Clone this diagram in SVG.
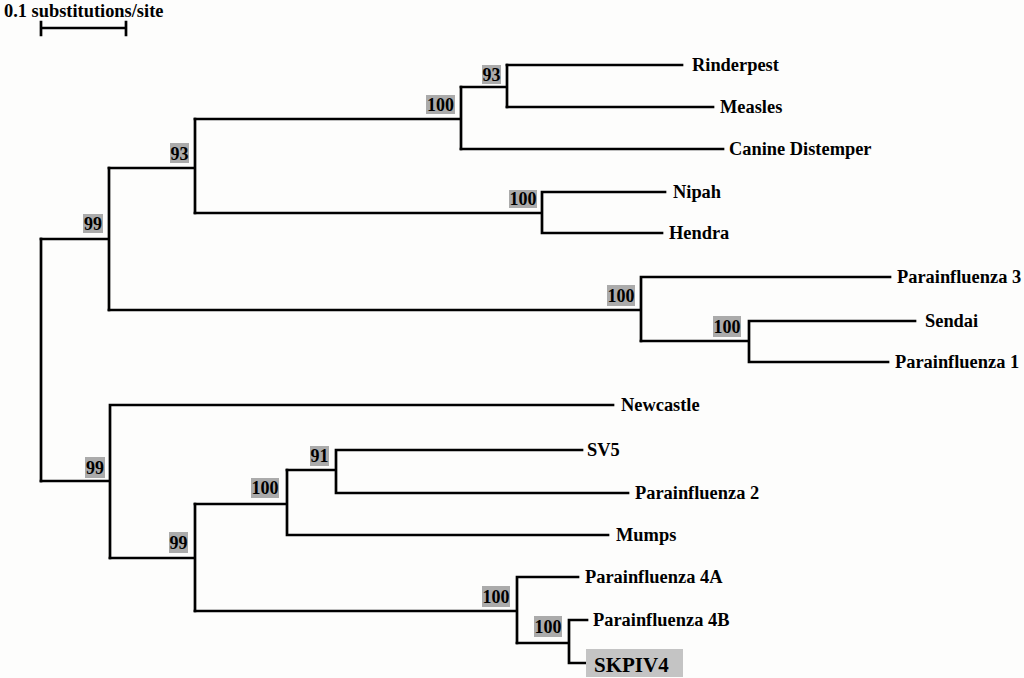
<svg xmlns="http://www.w3.org/2000/svg" width="1024" height="678" viewBox="0 0 1024 678">
<style>
.br{fill:none;stroke:#000;stroke-width:2.7;stroke-linecap:square;stroke-linejoin:miter}
.lb{font-family:"Liberation Serif","Times New Roman",serif;font-weight:bold;font-size:18.4px;fill:#000}
.bs rect{fill:#ababab}
.bs text{font-family:"Liberation Serif","Times New Roman",serif;font-weight:bold;font-size:18px;fill:#000;text-anchor:middle}
</style>
<rect x="0" y="0" width="1024" height="678" fill="#fdfdfc"/>
<g id="scale">
<text class="lb" x="4" y="17">0.1 substitutions/site</text>
<path class="br" d="M41,28 H126 M41,22 V35 M126,22 V35"/>
</g>
<g id="connectors">
<path class="br" d="M41,239 V481"/>
<path class="br" d="M41,239 H109 M109,168 V310"/>
<path class="br" d="M109,168 H195 M195,119 V213"/>
<path class="br" d="M195,119 H461 M461,87 V149"/>
<path class="br" d="M461,87 H507 M507,65 V107"/>
<path class="br" d="M507,65 H682 M507,107 H713 M461,149 H723"/>
<path class="br" d="M195,213 H542 M542,192 V233 M542,192 H665 M542,233 H662"/>
<path class="br" d="M109,310 H641 M641,277 V341 M641,277 H890"/>
<path class="br" d="M641,341 H749 M749,321 V362 M749,321 H915 M749,362 H888"/>
<path class="br" d="M41,481 H110 M110,405 V558 M110,405 H613"/>
<path class="br" d="M110,558 H195 M195,504 V611"/>
<path class="br" d="M195,504 H287 M287,470 V535 M287,535 H608"/>
<path class="br" d="M287,470 H336 M336,450 V493 M336,450 H582 M336,493 H628"/>
<path class="br" d="M195,611 H517 M517,577 V643 M517,577 H578"/>
<path class="br" d="M517,643 H569 M569,620 V663 M569,620 H587 M569,663 H585"/>
</g>
<g id="leaf-rinderpest"><text class="lb" x="692" y="71">Rinderpest</text></g>
<g id="leaf-measles"><text class="lb" x="720" y="113">Measles</text></g>
<g id="leaf-canine"><text class="lb" x="729" y="155">Canine Distemper</text></g>
<g id="leaf-nipah"><text class="lb" x="673" y="198">Nipah</text></g>
<g id="leaf-hendra"><text class="lb" x="669" y="239">Hendra</text></g>
<g id="leaf-piv3"><text class="lb" x="897" y="283">Parainfluenza 3</text></g>
<g id="leaf-sendai"><text class="lb" x="925" y="327">Sendai</text></g>
<g id="leaf-piv1"><text class="lb" x="895" y="368">Parainfluenza 1</text></g>
<g id="leaf-newcastle"><text class="lb" x="621" y="411">Newcastle</text></g>
<g id="leaf-sv5"><text class="lb" x="587" y="456">SV5</text></g>
<g id="leaf-piv2"><text class="lb" x="635" y="499">Parainfluenza 2</text></g>
<g id="leaf-mumps"><text class="lb" x="616" y="541">Mumps</text></g>
<g id="leaf-piv4a"><text class="lb" x="585" y="583">Parainfluenza 4A</text></g>
<g id="leaf-piv4b"><text class="lb" x="593" y="626">Parainfluenza 4B</text></g>
<g id="leaf-skpiv4">
<rect x="586" y="649" width="97" height="28" fill="#c4c4c4"/>
<text class="lb" x="594" y="672" style="font-size:21px">SKPIV4</text>
</g>
<g id="bs-1" class="bs"><rect x="482" y="65" width="19" height="19"/><text x="491.5" y="81">93</text></g>
<g id="bs-2" class="bs"><rect x="426" y="95" width="29" height="19"/><text x="440.5" y="111">100</text></g>
<g id="bs-3" class="bs"><rect x="170" y="143" width="19" height="20"/><text x="179.5" y="160">93</text></g>
<g id="bs-4" class="bs"><rect x="83" y="214" width="20" height="19"/><text x="93" y="230">99</text></g>
<g id="bs-5" class="bs"><rect x="509" y="190" width="28" height="18"/><text x="523" y="205">100</text></g>
<g id="bs-6" class="bs"><rect x="607" y="285" width="28" height="21"/><text x="621" y="302">100</text></g>
<g id="bs-7" class="bs"><rect x="713" y="316" width="28" height="21"/><text x="727" y="333">100</text></g>
<g id="bs-8" class="bs"><rect x="85" y="457" width="20" height="21"/><text x="95" y="474">99</text></g>
<g id="bs-9" class="bs"><rect x="310" y="446" width="19" height="20"/><text x="319.5" y="462">91</text></g>
<g id="bs-10" class="bs"><rect x="251" y="478" width="28" height="20"/><text x="265" y="494">100</text></g>
<g id="bs-11" class="bs"><rect x="169" y="532" width="19" height="21"/><text x="178.5" y="549">99</text></g>
<g id="bs-12" class="bs"><rect x="482" y="586" width="28" height="21"/><text x="496" y="603">100</text></g>
<g id="bs-13" class="bs"><rect x="534" y="616" width="28" height="21"/><text x="548" y="633">100</text></g>
</svg>
